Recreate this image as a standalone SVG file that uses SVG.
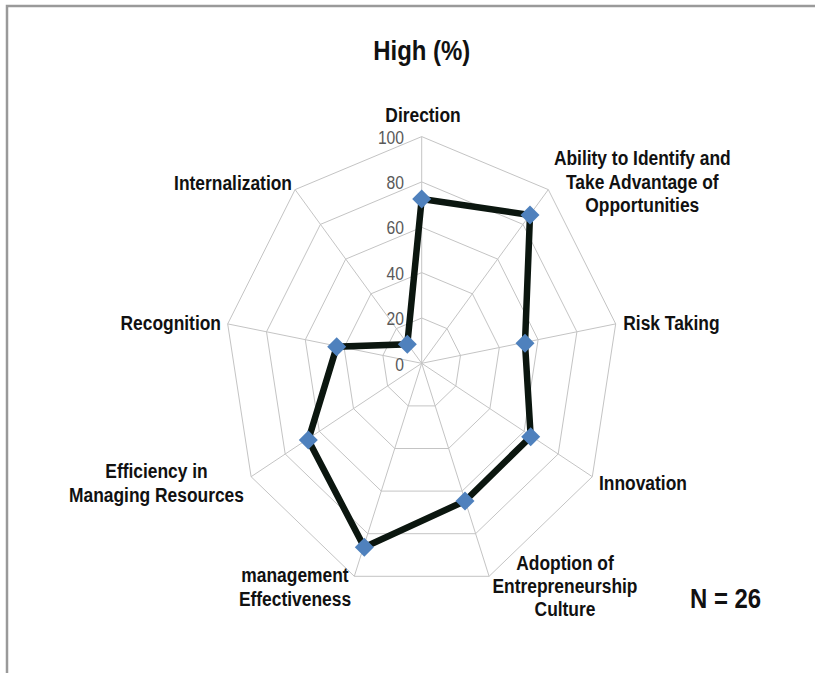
<svg xmlns="http://www.w3.org/2000/svg" width="815" height="673" viewBox="0 0 815 673">
<style>
.lbl{font-family:"Liberation Sans",Arial,sans-serif;font-weight:bold;font-size:20px;fill:#111}
.num{font-family:"Liberation Sans",Arial,sans-serif;font-size:18px;fill:#595959}
.ring{fill:none;stroke:#c4c4c4;stroke-width:1}
.spoke{stroke:#c4c4c4;stroke-width:1}
.mk{fill:#4f81bd}
</style>
<rect width="815" height="673" fill="#fff"/>
<path d="M7,673 V6 H815" fill="none" stroke="#9a9a9a" stroke-width="2.5"/>
<text class="lbl" transform="translate(421.7,59.5) scale(0.87,1)" text-anchor="middle" style="font-size:27.5px">High (%)</text>
<g id="grid" transform="translate(421.7,363.3)">
<polygon class="ring" points="0,-226.7 126.6,-173.7 194,-39.4 170.6,113.4 67.4,213 -67.4,213 -170.6,113.4 -194,-39.4 -126.6,-173.7"/>
<polygon class="ring" points="0,-181.4 101.3,-138.9 155.2,-31.5 136.5,90.7 53.9,170.4 -53.9,170.4 -136.5,90.7 -155.2,-31.5 -101.3,-138.9"/>
<polygon class="ring" points="0,-136 76,-104.2 116.4,-23.6 102.4,68 40.4,127.8 -40.4,127.8 -102.4,68 -116.4,-23.6 -76,-104.2"/>
<polygon class="ring" points="0,-90.7 50.7,-69.5 77.6,-15.7 68.2,45.3 26.9,85.2 -26.9,85.2 -68.2,45.3 -77.6,-15.7 -50.7,-69.5"/>
<polygon class="ring" points="0,-45.3 25.3,-34.7 38.8,-7.9 34.1,22.7 13.5,42.6 -13.5,42.6 -34.1,22.7 -38.8,-7.9 -25.3,-34.7"/>
<line class="spoke" x1="0" y1="0" x2="0" y2="-226.7"/>
<line class="spoke" x1="0" y1="0" x2="126.6" y2="-173.7"/>
<line class="spoke" x1="0" y1="0" x2="194" y2="-39.4"/>
<line class="spoke" x1="0" y1="0" x2="170.6" y2="113.4"/>
<line class="spoke" x1="0" y1="0" x2="67.4" y2="213"/>
<line class="spoke" x1="0" y1="0" x2="-67.4" y2="213"/>
<line class="spoke" x1="0" y1="0" x2="-170.6" y2="113.4"/>
<line class="spoke" x1="0" y1="0" x2="-194" y2="-39.4"/>
<line class="spoke" x1="0" y1="0" x2="-126.6" y2="-173.7"/>
</g>
<g id="scale">
<text class="num" transform="translate(404,144.3) scale(0.87,1)" text-anchor="end">100</text>
<text class="num" transform="translate(404,188.5) scale(0.87,1)" text-anchor="end">80</text>
<text class="num" transform="translate(404,233.5) scale(0.87,1)" text-anchor="end">60</text>
<text class="num" transform="translate(404,279.5) scale(0.87,1)" text-anchor="end">40</text>
<text class="num" transform="translate(404,325) scale(0.87,1)" text-anchor="end">20</text>
<text class="num" transform="translate(404,371) scale(0.87,1)" text-anchor="end">0</text>
</g>
<g id="connectors">
<polygon points="421.7,199 530,215 525,343.3 530.7,436.7 465,501 364.3,547.3 308.3,440 336.7,346.7 407.3,344.3" fill="none" stroke="#0b160f" stroke-width="6.5" stroke-linejoin="miter"/>
</g>
<g id="markers">
<path class="mk" d="M421.7,189.5 l9.5,9.5 l-9.5,9.5 l-9.5,-9.5z"/>
<path class="mk" d="M530,205.5 l9.5,9.5 l-9.5,9.5 l-9.5,-9.5z"/>
<path class="mk" d="M525,333.8 l9.5,9.5 l-9.5,9.5 l-9.5,-9.5z"/>
<path class="mk" d="M530.7,427.2 l9.5,9.5 l-9.5,9.5 l-9.5,-9.5z"/>
<path class="mk" d="M465,491.5 l9.5,9.5 l-9.5,9.5 l-9.5,-9.5z"/>
<path class="mk" d="M364.3,537.8 l9.5,9.5 l-9.5,9.5 l-9.5,-9.5z"/>
<path class="mk" d="M308.3,430.5 l9.5,9.5 l-9.5,9.5 l-9.5,-9.5z"/>
<path class="mk" d="M336.7,337.2 l9.5,9.5 l-9.5,9.5 l-9.5,-9.5z"/>
<path class="mk" d="M407.3,334.8 l9.5,9.5 l-9.5,9.5 l-9.5,-9.5z"/>
</g>
<g id="node-direction"><text class="lbl" transform="translate(423,121.5) scale(0.87,1)" text-anchor="middle">Direction</text></g>
<g id="node-ability">
<text class="lbl" transform="translate(642.3,165) scale(0.87,1)" text-anchor="middle">Ability to Identify and</text>
<text class="lbl" transform="translate(642.3,188.5) scale(0.87,1)" text-anchor="middle">Take Advantage of</text>
<text class="lbl" transform="translate(642.3,211.5) scale(0.87,1)" text-anchor="middle">Opportunities</text>
</g>
<g id="node-risk"><text class="lbl" transform="translate(623.3,330) scale(0.87,1)">Risk Taking</text></g>
<g id="node-innovation"><text class="lbl" transform="translate(599,490) scale(0.87,1)">Innovation</text></g>
<g id="node-adoption">
<text class="lbl" transform="translate(565,570) scale(0.87,1)" text-anchor="middle">Adoption of</text>
<text class="lbl" transform="translate(565,593) scale(0.87,1)" text-anchor="middle">Entrepreneurship</text>
<text class="lbl" transform="translate(565,615.5) scale(0.87,1)" text-anchor="middle">Culture</text>
</g>
<g id="node-management">
<text class="lbl" transform="translate(295,582) scale(0.87,1)" text-anchor="middle">management</text>
<text class="lbl" transform="translate(295,605.5) scale(0.87,1)" text-anchor="middle">Effectiveness</text>
</g>
<g id="node-efficiency">
<text class="lbl" transform="translate(156.5,478) scale(0.87,1)" text-anchor="middle">Efficiency in</text>
<text class="lbl" transform="translate(156.5,501.5) scale(0.87,1)" text-anchor="middle">Managing Resources</text>
</g>
<g id="node-recognition"><text class="lbl" transform="translate(221,330) scale(0.87,1)" text-anchor="end">Recognition</text></g>
<g id="node-internalization"><text class="lbl" transform="translate(292,190) scale(0.87,1)" text-anchor="end">Internalization</text></g>
<text class="lbl" transform="translate(690,607.5) scale(0.87,1)" style="font-size:27.5px">N = 26</text>
</svg>
